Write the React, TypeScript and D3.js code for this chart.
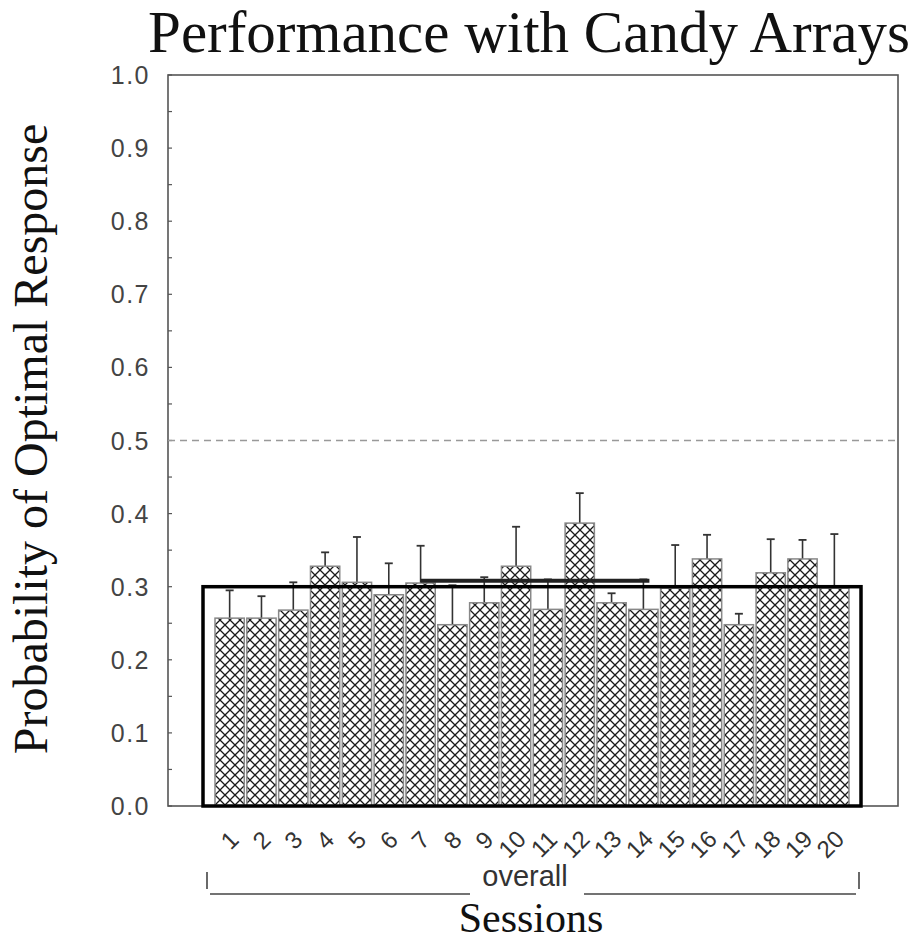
import React from "react";
import * as d3 from "d3";

const sessions: string[] = ["1","2","3","4","5","6","7","8","9","10","11","12","13","14","15","16","17","18","19","20"];
const means: number[] = [0.257,0.257,0.268,0.328,0.306,0.289,0.305,0.248,0.278,0.328,0.269,0.387,0.278,0.269,0.298,0.338,0.248,0.319,0.338,0.298];
const upper: number[] = [0.295,0.287,0.306,0.347,0.368,0.332,0.356,0.302,0.313,0.382,0.31,0.428,0.291,0.31,0.357,0.371,0.263,0.365,0.364,0.372];
const overallMean = 0.30;
const chanceLevel = 0.5;
const refLineValue = 0.308;
const refLineFrom = "7";
const refLineTo = "14";
const yTicks: number[] = [0,0.1,0.2,0.3,0.4,0.5,0.6,0.7,0.8,0.9,1.0];
const yMinorTicks: number[] = d3.range(0, 1.0001, 0.05);

const W = 921, H = 943;
const frame = { left: 168, right: 898, top: 75, bottom: 806 };

export default function App() {
  const y = d3.scaleLinear().domain([0, 1]).range([frame.bottom, frame.top]);
  const x = d3.scaleBand<string>().domain(sessions).range([215, 849]).paddingInner(0.08).paddingOuter(0);
  const bw = x.bandwidth();
  const cx = (s: string) => (x(s) as number) + bw / 2;
  const overallLeft = (x(sessions[0]) as number) - 12;
  const overallRight = (x(sessions[sessions.length - 1]) as number) + bw + 12;
  const sans = "'Liberation Sans', Arial, sans-serif";
  const serif = "'Liberation Serif', 'Times New Roman', serif";

  return (
    <svg width={W} height={H} style={{ position: "absolute", left: 0, top: 0, background: "#fff" }}>
      <defs>
        <pattern id="hatch" width={10} height={10} patternUnits="userSpaceOnUse">
          <rect width={10} height={10} fill="#fff" />
          <path d="M0,0L10,10M10,0L0,10" stroke="#1a1a1a" strokeWidth={1.3} />
        </pattern>
      </defs>

      {/* title */}
      <text x={529} y={52} textAnchor="middle" fontFamily={serif} fontSize={59} fill="#111">
        Performance with Candy Arrays
      </text>

      {/* y label */}
      <text transform={`translate(47,439) rotate(-90)`} textAnchor="middle" fontFamily={serif} fontSize={48} fill="#111">
        Probability of Optimal Response
      </text>

      {/* frame */}
      <rect x={frame.left} y={frame.top} width={frame.right - frame.left} height={frame.bottom - frame.top}
        fill="none" stroke="#555" strokeWidth={1.6} />

      {/* minor ticks */}
      {yMinorTicks.map((t, i) => (
        <line key={"mt" + i} x1={frame.left} x2={frame.left + 4} y1={y(t)} y2={y(t)} stroke="#555" strokeWidth={1.2} />
      ))}

      {/* y tick labels */}
      {yTicks.map((t) => (
        <text key={"yt" + t} x={150} y={y(t)} dy="0.36em" textAnchor="end" fontFamily={sans} fontSize={25}
          letterSpacing={1.5} fill="#444">
          {t.toFixed(1)}
        </text>
      ))}

      {/* chance line */}
      <line x1={frame.left} x2={frame.right} y1={y(chanceLevel)} y2={y(chanceLevel)} stroke="#999"
        strokeWidth={1.5} strokeDasharray="7 5" />

      {/* bars */}
      {sessions.map((s, i) => (
        <g key={"b" + s}>
          <line x1={cx(s)} x2={cx(s)} y1={y(means[i])} y2={y(upper[i])} stroke="#333" strokeWidth={1.6} />
          <line x1={cx(s) - 4} x2={cx(s) + 4} y1={y(upper[i])} y2={y(upper[i])} stroke="#333" strokeWidth={1.8} />
          <rect x={x(s)} y={y(means[i])} width={bw} height={y(0) - y(means[i])} fill="url(#hatch)"
            stroke="#888" strokeWidth={1.5} />
        </g>
      ))}

      {/* reference line */}
      <line x1={cx(refLineFrom)} x2={cx(refLineTo) + 6} y1={y(refLineValue)} y2={y(refLineValue)}
        stroke="#222" strokeWidth={4} />

      {/* overall rect */}
      <rect x={overallLeft} y={y(overallMean)} width={overallRight - overallLeft} height={y(0) - y(overallMean)}
        fill="none" stroke="#000" strokeWidth={3.5} />

      {/* x tick labels */}
      {sessions.map((s) => (
        <text key={"xl" + s} transform={`translate(${cx(s) - (s.length > 1 ? 4 : 0)},${s.length > 1 ? 844 : 840}) rotate(-45)`}
          textAnchor="middle" dy="0.35em" fontFamily={sans} fontSize={24} fill="#333">
          {s}
        </text>
      ))}

      {/* overall bracket */}
      <line x1={overallLeft + 4} x2={overallLeft + 4} y1={872} y2={889} stroke="#444" strokeWidth={1.6} />
      <line x1={overallRight - 2} x2={overallRight - 2} y1={872} y2={889} stroke="#444" strokeWidth={1.6} />
      <line x1={overallLeft + 7} x2={470} y1={894} y2={894} stroke="#444" strokeWidth={1.5} />
      <line x1={584} x2={overallRight - 5} y1={894} y2={894} stroke="#444" strokeWidth={1.5} />
      <text x={525} y={886} textAnchor="middle" fontFamily={sans} fontSize={29} fill="#333">overall</text>

      {/* x title */}
      <text x={531} y={932} textAnchor="middle" fontFamily={serif} fontSize={42} fill="#111">Sessions</text>
    </svg>
  );
}
